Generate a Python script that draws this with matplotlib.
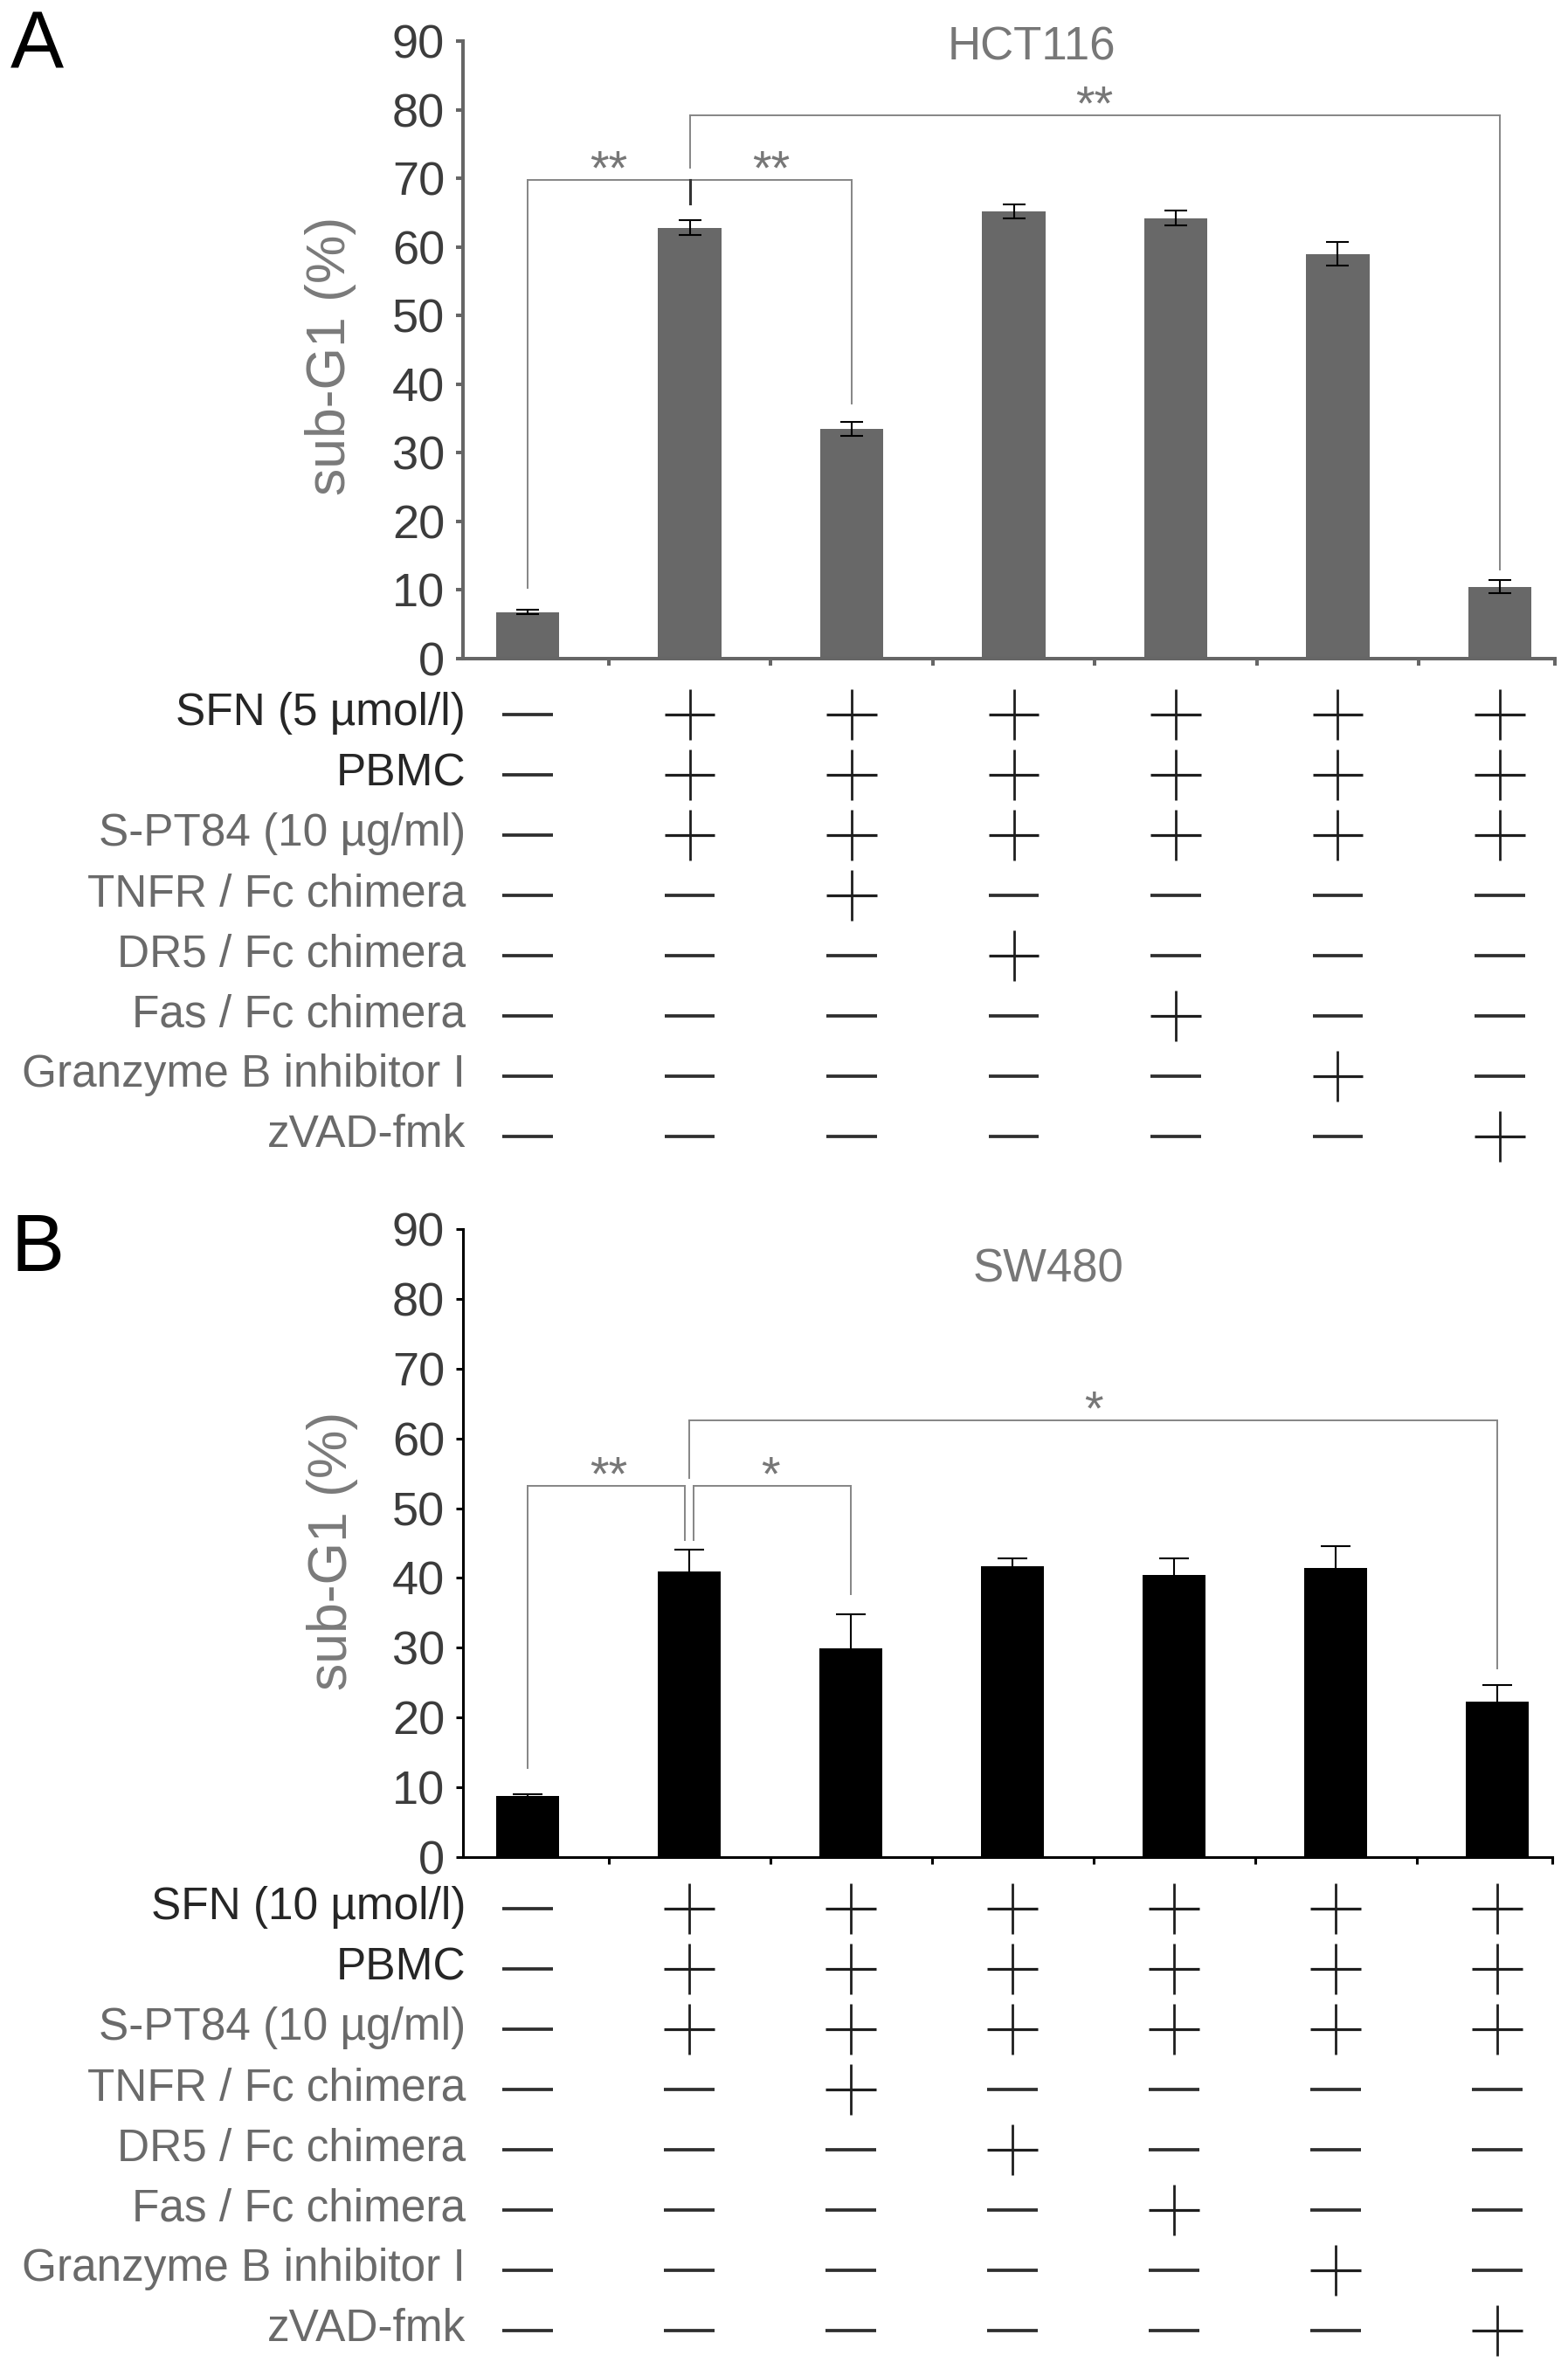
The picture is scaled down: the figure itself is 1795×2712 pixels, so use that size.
import numpy as np
import matplotlib
matplotlib.use("Agg")
import matplotlib.pyplot as plt

plt.rcParams['font.family'] = ['Liberation Sans', 'DejaVu Sans']

# data
conditions = ['ctrl', 'SFN+PBMC+S-PT84', '+TNFR/Fc', '+DR5/Fc', '+Fas/Fc', '+GzmB inh', '+zVAD']
hct_vals = [6.8, 62.8, 33.5, 65.2, 64.2, 59.0, 10.5]
hct_err = [0.3, 1.05, 1.05, 1.05, 1.05, 1.7, 1.0]
sw_vals = [8.7, 40.9, 29.9, 41.7, 40.4, 41.4, 22.3]
sw_err = [0.3, 3.2, 4.9, 1.1, 2.4, 3.1, 2.3]

# brackets: (from, to, height, drop at left, drop at right, stars)
hct_brackets = [(0, 1, 69.8, 10.3, 66.3, '**'),
                (1, 2, 69.8, 66.3, 37.2, '**'),
                (1, 6, 79.2, 71.5, 13.0, '**')]
sw_brackets = [(0, 1, 53.2, 12.8, 45.4, '**'),
               (1, 2, 53.2, 45.4, 37.7, '*'),
               (1, 6, 62.6, 54.3, 27.1, '*')]

rows_a = ['SFN (5 µmol/l)', 'PBMC', 'S-PT84 (10 µg/ml)', 'TNFR / Fc chimera',
          'DR5 / Fc chimera', 'Fas / Fc chimera', 'Granzyme B inhibitor I', 'zVAD-fmk']
rows_b = ['SFN (10 µmol/l)'] + rows_a[1:]
sfn = [0, 1, 1, 1, 1, 1, 1]
pbmc = [0, 1, 1, 1, 1, 1, 1]
spt84 = [0, 1, 1, 1, 1, 1, 1]
tnfr = [0, 0, 1, 0, 0, 0, 0]
dr5 = [0, 0, 0, 1, 0, 0, 0]
fas = [0, 0, 0, 0, 1, 0, 0]
gzmb = [0, 0, 0, 0, 0, 1, 0]
zvad = [0, 0, 0, 0, 0, 0, 1]
treat = [sfn, pbmc, spt84, tnfr, dr5, fas, gzmb, zvad]

W, H = 1795, 2712
fig = plt.figure(figsize=(W / 100, H / 100), dpi=100)


def box(left, top, right, bottom):
    return [left / W, 1 - bottom / H, (right - left) / W, (bottom - top) / H]


XL, XR = -0.40, 6.34
x = np.arange(len(conditions))


def bar_panel(rect, vals, errs, brackets, title, tx, ty, barcol, axcol, lw, cap, sep, jcol):
    ax = fig.add_axes(rect)
    ax.bar(x, vals, width=0.39, color=barcol, zorder=2)
    ax.errorbar(x, vals, yerr=errs, fmt='none', ecolor='black', elinewidth=1.5,
                capsize=cap, capthick=1.5, zorder=3)
    ax.set_xlim(XL, XR)
    ax.set_ylim(0, 90)
    ax.set_yticks(range(0, 91, 10))
    ax.set_xticks(list(np.arange(0.5, 6, 1)) + [XR])
    ax.set_xticklabels([])
    for s in ['top', 'right']:
        ax.spines[s].set_visible(False)
    for s in ['left', 'bottom']:
        ax.spines[s].set_color(axcol)
        ax.spines[s].set_linewidth(lw)
    ax.tick_params(direction='out', length=6, width=lw, color=axcol,
                   labelsize=39, labelcolor='#3c3c3c', pad=9)
    ax.text(tx, ty, title, fontsize=38, color='#777777', ha='center', va='center')
    bc = '#858585'
    for i, (a, b, h, ya, yb, s) in enumerate(brackets):
        xa = a + (sep if a == 1 and i == 1 else 0)
        xb = b - (sep if b == 1 else 0)
        ax.plot([xa, xb], [h, h], color=bc, lw=1.4, zorder=1)
        # drop lines; the ones meeting at bar 2 below the low bracket are darker
        ca = jcol if (a == 1 and i == 1) else bc
        cb = jcol if b == 1 else bc
        ax.plot([xa, xa], [ya, h], color=ca, lw=1.4 if ca == bc else 2.2, zorder=1)
        ax.plot([xb, xb], [yb, h], color=cb, lw=1.4 if cb == bc else 2.2, zorder=1)
        ax.text((a + b) / 2, h + 3.6 - 33 / 7.9, s, fontsize=40, color='#777777',
                ha='center', va='baseline')
    return ax


def table_panel(rect, labels):
    t = fig.add_axes(rect)
    t.set_xlim(XL, XR)
    t.set_ylim(7.5, -0.5)
    t.axis('off')
    for r, (lab, row) in enumerate(zip(labels, treat)):
        col = '#262626' if r < 2 else '#6a6a6a'
        t.text(-0.383, r + 0.18, lab, fontsize=37, color=col, ha='right', va='baseline')
        for c, v in enumerate(row):
            if v:
                t.hlines(r, c - 0.155, c + 0.155, color='#1e1e1e', lw=2.3)
                t.vlines(c, r - 0.42, r + 0.42, color='#1e1e1e', lw=2.0)
            else:
                t.hlines(r, c - 0.155, c + 0.155, color='#2e2e2e', lw=2.7)
    return t


ax_a = bar_panel(box(530, 47, 1780, 754), hct_vals, hct_err, hct_brackets, 'HCT116',
                 3.11, 89.1, '#686868', '#666666', 2.9, 9.5, 0.0, '#333333')
table_panel(box(530, 783.5, 1780, 1335.5), rows_a)
ax_b = bar_panel(box(530, 1407, 1777, 2126), sw_vals, sw_err, sw_brackets, 'SW480',
                 3.22, 84.2, 'black', 'black', 2.2, 12, 0.027, '#858585')
table_panel(box(530, 2150.5, 1777, 2702.5), rows_b)

fig.text(379 / W, 1 - 407 / H, 'sub-G1 (%)', rotation=90, fontsize=45, color='#7a7a7a',
         ha='center', va='center')
fig.text(381 / W, 1 - 1775 / H, 'sub-G1 (%)', rotation=90, fontsize=45, color='#7a7a7a',
         ha='center', va='center')
fig.text(12 / W, 1 - 79 / H, 'A', fontsize=66, color='black', ha='left', va='baseline')
fig.text(12 / W, 1 - 1455 / H, 'B', fontsize=66, color='black', ha='left', va='baseline')

fig.savefig('out.png', dpi=100, facecolor='white')
